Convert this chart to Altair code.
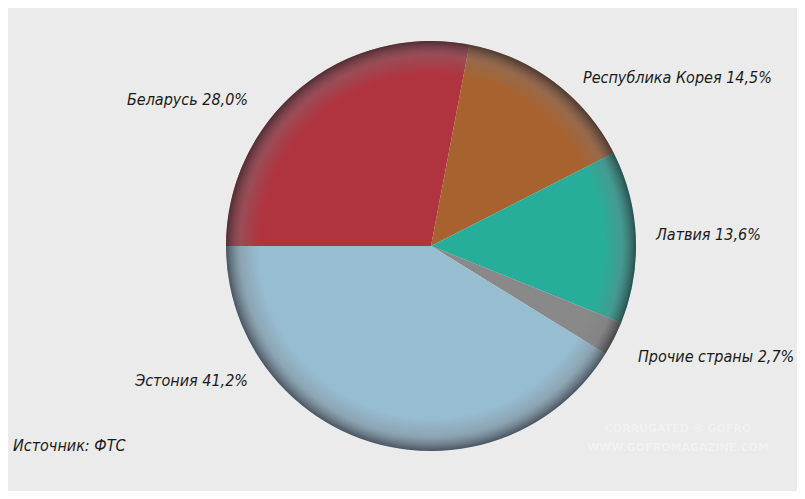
import math
import altair as alt
import pandas as pd

countries = ["Беларусь", "Республика Корея", "Латвия", "Прочие страны", "Эстония"]
shares = [28.0, 14.5, 13.6, 2.7, 41.2]
labels = ["Беларусь 28,0%", "Республика Корея 14,5%", "Латвия 13,6%",
          "Прочие страны 2,7%", "Эстония 41,2%"]
colors = ["#AF3440", "#A8622F", "#27AE9B", "#8A8989", "#97BDD1"]
source_text = "Источник: ФТС"

df = pd.DataFrame({"country": countries, "share": shares, "idx": list(range(len(countries)))})

CX, CY, R = 423, 238, 205
FONT = "'DejaVu Sans Condensed', 'Liberation Sans', sans-serif"

pie = alt.Chart(df).mark_arc(radius=R, strokeWidth=0).encode(
    theta=alt.Theta("share:Q", stack=True,
                    scale=alt.Scale(range=[1.5 * math.pi, 3.5 * math.pi])),
    color=alt.Color("country:N", scale=alt.Scale(domain=countries, range=colors), legend=None),
    order=alt.Order("idx:Q"),
    x=alt.value(CX), y=alt.value(CY),
)

shade = alt.Chart(pd.DataFrame({"a": [1]})).mark_arc(
    radius=R, theta=0, theta2=2 * math.pi,
    fill={
        "gradient": "radial",
        "x1": 0.5, "y1": 0.5, "r1": 0,
        "x2": 0.5, "y2": 0.5, "r2": 0.5,
        "stops": [
            {"offset": 0.0, "color": "rgba(120,120,125,0)"},
            {"offset": 0.84, "color": "rgba(120,120,125,0)"},
            {"offset": 0.93, "color": "rgba(120,120,125,0.35)"},
            {"offset": 1.0, "color": "rgba(40,40,48,0.7)"},
        ],
    },
).encode(x=alt.value(CX), y=alt.value(CY))

label_pos = [  # (x, y, align) per label, layout only
    (240, 92, "right"),
    (575, 70, "left"),
    (648, 227, "left"),
    (630, 349, "left"),
    (240, 373, "right"),
]

layers = [pie, shade]
for lab, (lx, ly, al) in zip(labels, label_pos):
    layers.append(
        alt.Chart(pd.DataFrame({"t": [lab]})).mark_text(
            font=FONT, fontSize=16, fontStyle="italic", color="#1a1a1a",
            align=al, baseline="middle",
        ).encode(text="t:N", x=alt.value(lx), y=alt.value(ly))
    )

layers.append(
    alt.Chart(pd.DataFrame({"t": [source_text]})).mark_text(
        font=FONT, fontSize=16, fontStyle="italic", color="#1a1a1a",
        align="left", baseline="middle",
    ).encode(text="t:N", x=alt.value(5), y=alt.value(438))
)

wm = pd.DataFrame({"t": ["CORRUGATED  ®  GOFRO", "WWW.GOFROMAGAZINE.COM"], "yy": [421, 440]})
layers.append(
    alt.Chart(wm).mark_text(
        font="DejaVu Sans", fontSize=11, fontWeight="bold", color="#ffffff", opacity=0.35,
        align="center", baseline="middle",
    ).encode(text="t:N", x=alt.value(670), y=alt.Y("yy:Q", scale=None))
)

chart = alt.layer(*layers).properties(
    width=789, height=483,
    autosize=alt.AutoSizeParams(type="none"),
    padding=0,
    background="#EBEBEB",
).configure_view(stroke=None)

chart.save("out.html", embed_options={"renderer": "svg", "actions": False})
